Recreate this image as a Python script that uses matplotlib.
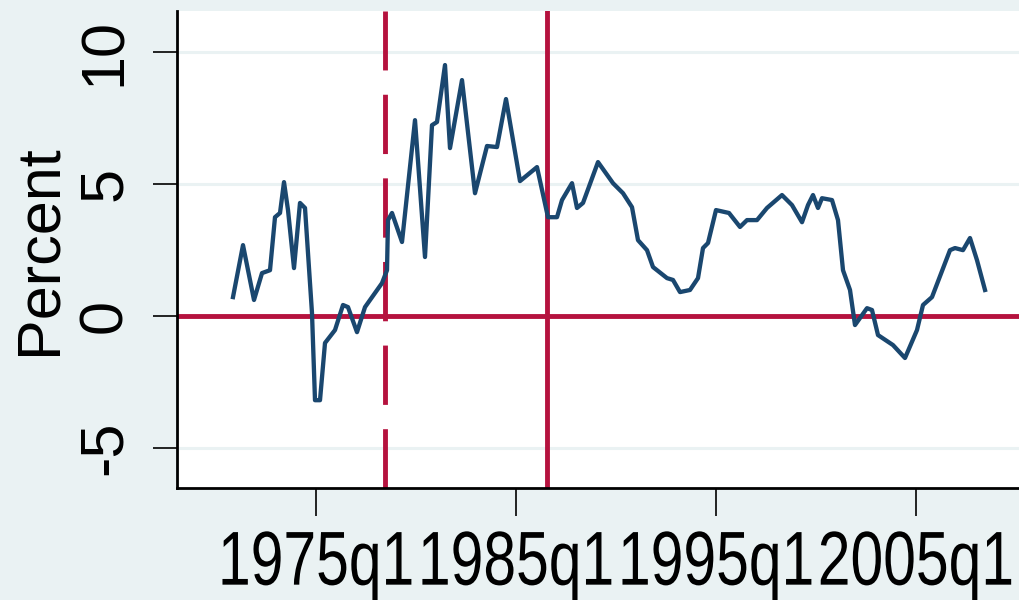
import matplotlib
matplotlib.use("Agg")
from matplotlib import pyplot as plt
from matplotlib.patheffects import AbstractPathEffect
from matplotlib.transforms import Affine2D

# quarterly series (decimal year, percent)
years = [1970.85, 1971.35, 1971.9, 1972.3, 1972.7, 1972.95, 1973.2, 1973.4, 1973.6, 1973.9,
         1974.2, 1974.45, 1974.8, 1974.95, 1975.2, 1975.45, 1975.95, 1976.35, 1976.6, 1977.05,
         1977.45, 1978.3, 1978.55, 1978.6, 1978.8, 1979.3, 1979.95, 1980.45, 1980.8, 1981.05,
         1981.45, 1981.7, 1982.3, 1982.95, 1983.55, 1984.05, 1984.5, 1985.2, 1986.05, 1986.6,
         1987.05, 1987.3, 1987.8, 1988.05, 1988.35, 1989.1, 1989.85, 1990.35, 1990.8, 1991.1,
         1991.55, 1991.85, 1992.55, 1992.85, 1993.2, 1993.7, 1994.1, 1994.35, 1994.6, 1995.0,
         1995.65, 1996.2, 1996.55, 1997.05, 1997.55, 1998.3, 1998.8, 1999.3, 1999.6, 1999.85,
         2000.1, 2000.3, 2000.8, 2001.1, 2001.35, 2001.7, 2001.95, 2002.55, 2002.8, 2003.1,
         2003.85, 2004.45, 2005.05, 2005.35, 2005.8, 2006.7, 2006.95, 2007.35, 2007.7, 2008.05,
         2008.45]
percent = [0.72, 2.69, 0.61, 1.63, 1.74, 3.75, 3.91, 5.08, 4.02, 1.82,
           4.29, 4.10, 0.11, -3.19, -3.19, -1.02, -0.53, 0.42, 0.34, -0.61,
           0.34, 1.25, 1.74, 3.64, 3.91, 2.81, 7.43, 2.24, 7.24, 7.36,
           9.52, 6.37, 8.95, 4.66, 6.45, 6.41, 8.23, 5.12, 5.65, 3.75,
           3.75, 4.40, 5.04, 4.10, 4.29, 5.84, 5.04, 4.66, 4.13, 2.88,
           2.50, 1.86, 1.44, 1.37, 0.91, 0.99, 1.44, 2.58, 2.77, 4.02,
           3.91, 3.38, 3.64, 3.64, 4.10, 4.59, 4.21, 3.56, 4.21, 4.59,
           4.10, 4.47, 4.40, 3.64, 1.74, 0.99, -0.34, 0.30, 0.23, -0.72,
           -1.10, -1.59, -0.53, 0.42, 0.72, 2.50, 2.58, 2.50, 2.96, 2.12,
           0.99]

x_ticks = [1975, 1985, 1995, 2005]
x_labels = ['1975q1', '1985q1', '1995q1', '2005q1']
y_ticks = [-5, 0, 5, 10]
break_dashed = 1978.45
break_solid = 1986.55

bg = '#eaf2f3'
navy = '#1a476f'
red = '#b5123e'


class Condense(AbstractPathEffect):
    """Squeeze the glyphs horizontally around their centre (narrow font look)."""

    def __init__(self, sx=0.78):
        super().__init__()
        self.sx = sx

    def draw_path(self, renderer, gc, tpath, affine, rgbFace=None):
        ext = tpath.get_extents(affine)
        cx = (ext.x0 + ext.x1) / 2
        squeeze = Affine2D().translate(-cx, 0).scale(self.sx, 1).translate(cx, 0)
        renderer.draw_path(gc, tpath, affine + squeeze, rgbFace)


fig = plt.figure(figsize=(10.2, 6), dpi=100, facecolor=bg)
ax = fig.add_axes([177 / 1020, 112 / 600, 843 / 1020, 477 / 600])
ax.set_facecolor('white')

# grid lines
for y in y_ticks:
    ax.axhline(y, color=bg, lw=2.2, zorder=0)

ax.axhline(0, color=red, lw=3.5, zorder=2)
ax.axvline(break_dashed, color=red, lw=3.5, dashes=(12.2, 5), zorder=2)
ax.axvline(break_solid, color=red, lw=3.5, zorder=2)
ax.plot(years, percent, color=navy, lw=3.1, zorder=3)

ax.set_xlim(1968.05, 2010.2)
ax.set_ylim(-6.52, 11.57)

for side in ['top', 'right']:
    ax.spines[side].set_visible(False)
for side in ['left', 'bottom']:
    ax.spines[side].set_linewidth(2)

ax.set_xticks(x_ticks)
ax.set_xticklabels(x_labels, family='Liberation Sans', fontsize=55)
for lab in ax.get_xticklabels():
    lab.set_path_effects([Condense(0.77)])
ax.set_yticks(y_ticks)
ax.set_yticklabels([str(v) for v in y_ticks], family='Liberation Sans', fontsize=44,
                   rotation=90, va='center')
ax.tick_params(axis='x', length=20, width=1.2, pad=10)
ax.tick_params(axis='y', length=17, width=1.2, pad=14)
ax.set_ylabel('Percent', family='Liberation Sans', fontsize=44, labelpad=6)

fig.savefig('out.png', dpi=100, facecolor=bg)
